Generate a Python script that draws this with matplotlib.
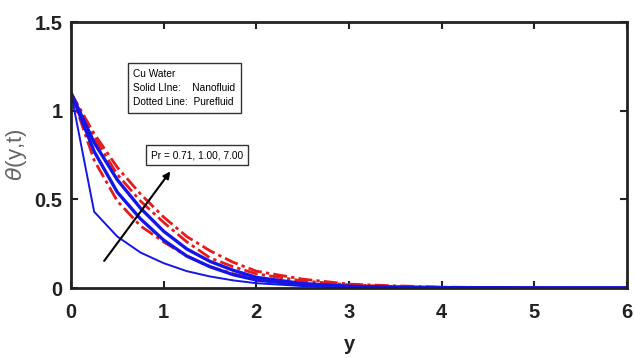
import matplotlib
matplotlib.use("Agg")
import matplotlib.pyplot as plt

plt.rcParams['font.family'] = ['Liberation Sans', 'DejaVu Sans']

# sampled y positions
y_pts = [0, 0.25, 0.5, 0.75, 1.0, 1.25, 1.5, 1.75, 2.0, 2.5, 3.0, 3.5, 4.0, 5.0, 6.0]

# Nanofluid (solid, blue) for Pr = 7.00, 1.00, 0.71
nano_pr700 = [1.1, 0.43, 0.29, 0.20, 0.14, 0.095, 0.065, 0.043, 0.027, 0.011, 0.004, 0.002, 0.001, 0.0, 0.0]
nano_pr100 = [1.1, 0.77, 0.54, 0.39, 0.27, 0.18, 0.12, 0.075, 0.045, 0.018, 0.007, 0.003, 0.001, 0.0, 0.0]
nano_pr071 = [1.1, 0.82, 0.61, 0.45, 0.32, 0.22, 0.15, 0.10, 0.06, 0.025, 0.010, 0.004, 0.002, 0.0, 0.0]

# Purefluid (dotted, red)
pure_pr700 = [1.1, 0.72, 0.49, 0.35, 0.26, 0.18, 0.12, 0.08, 0.05, 0.022, 0.010, 0.004, 0.002, 0.0, 0.0]
pure_pr100 = [1.1, 0.85, 0.64, 0.49, 0.37, 0.26, 0.17, 0.12, 0.08, 0.04, 0.018, 0.008, 0.004, 0.001, 0.0]
pure_pr071 = [1.1, 0.87, 0.68, 0.53, 0.40, 0.29, 0.21, 0.145, 0.095, 0.05, 0.022, 0.012, 0.005, 0.001, 0.0]

x_ticks = [0, 1, 2, 3, 4, 5, 6]
y_ticks = [0, 0.5, 1, 1.5]
y_tick_labels = ['0', '0.5', '1', '1.5']

fig = plt.figure(figsize=(6.35, 3.58), dpi=100)
ax = fig.add_axes([71/635, 1 - 288/358, (627-71)/635, (288-22)/358])

blue = '#1515e6'
red = '#e61a1a'
for ys in (pure_pr700, pure_pr100, pure_pr071):
    ax.plot(y_pts, ys, color=red, lw=2.0, ls=(0, (5, 1.5, 1.2, 1.5)))
ax.plot(y_pts, nano_pr700, color=blue, lw=1.4)
ax.plot(y_pts, nano_pr100, color=blue, lw=2.4)
ax.plot(y_pts, nano_pr071, color=blue, lw=2.4)

ax.set_xlim(0, 6)
ax.set_ylim(0, 1.5)
ax.set_xticks(x_ticks)
ax.set_yticks(y_ticks)
ax.set_yticklabels(y_tick_labels)
ax.tick_params(direction='in', length=5, width=1.5, top=True, right=True,
               labelsize=14.5, colors='#222222')
ax.tick_params(axis='x', pad=11)
ax.tick_params(axis='y', pad=6)
for lab in ax.get_xticklabels() + ax.get_yticklabels():
    lab.set_fontweight('bold')
for s in ax.spines.values():
    s.set_linewidth(2.0)
    s.set_color('#222222')

ax.set_xlabel('y', fontsize=14.5, fontweight='bold', color='#222222', labelpad=9)
ax.set_ylabel(r'$\theta$(y,t)', fontsize=16, color='#666666', labelpad=4)

ax.text(0.67, 1.128, 'Cu Water\nSolid LIne:    Nanofluid\nDotted Line:  Purefluid',
        fontsize=7.3, va='center', ha='left', linespacing=1.5,
        bbox=dict(boxstyle='square,pad=0.55', fc='white', ec='#333333', lw=1.0))

ax.text(0.86, 0.75, 'Pr = 0.71, 1.00, 7.00', fontsize=7.3, va='center', ha='left',
        bbox=dict(boxstyle='square,pad=0.5', fc='white', ec='#333333', lw=1.0))

ax.annotate('', xy=(1.09, 0.67), xytext=(0.34, 0.14),
            arrowprops=dict(arrowstyle='-|>', color='black', lw=1.5, mutation_scale=10))

fig.savefig('out.png', dpi=100)
